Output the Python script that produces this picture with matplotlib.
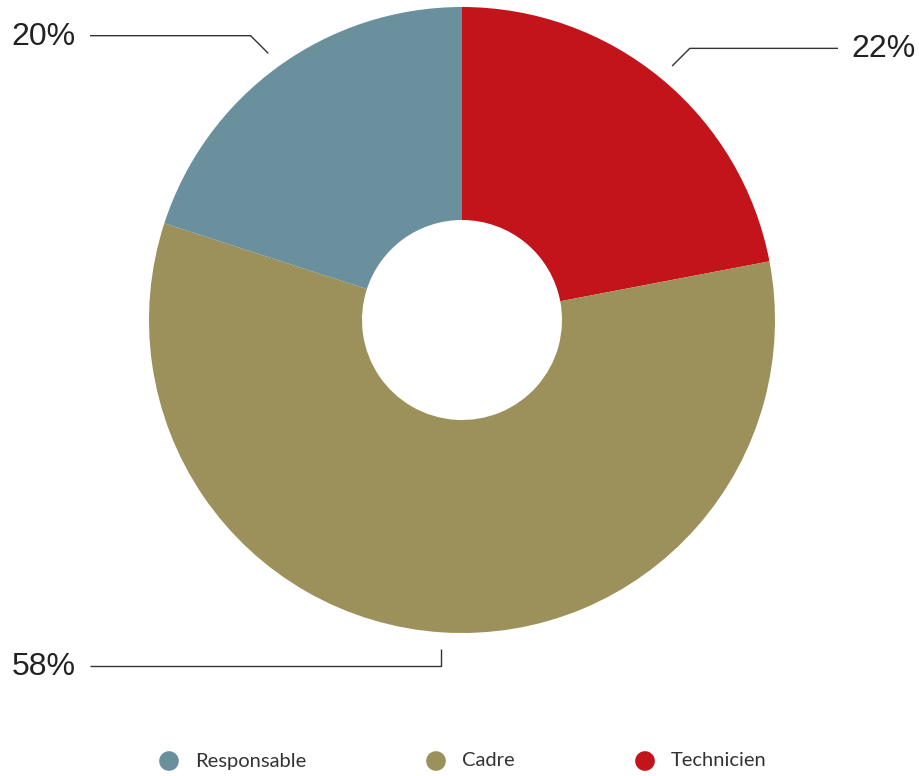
import numpy as np
import matplotlib
matplotlib.use("Agg")
import matplotlib.pyplot as plt

# Share of staff per category (percent)
categories = ["Technicien", "Cadre", "Responsable"]
shares = [22, 58, 20]
colors = ["#c3131b", "#9c915a", "#6a909e"]
legend_order = ["Responsable", "Cadre", "Technicien"]

W, H = 920, 776
fig = plt.figure(figsize=(W / 100, H / 100), dpi=100)
ax = fig.add_axes([0, 0, 1, 1])

cx, cy = 462, H - 320
R = 313
hole = 100

ax.pie(
    shares, colors=colors, startangle=90, counterclock=False,
    center=(cx, cy), radius=R, frame=True,
    wedgeprops=dict(width=R - hole, linewidth=0),
)
ax.set_xlim(0, W)
ax.set_ylim(0, H)
ax.set_aspect("equal")
ax.axis("off")

# Leader lines and percentage labels
label_font = dict(family="Liberation Sans", fontsize=23, color="#222222")
line_kw = dict(color="#333333", linewidth=1.0, solid_capstyle="butt")
elbow_len = {"Technicien": 25, "Cadre": 17, "Responsable": 25}
cum = 0.0
total = float(sum(shares))
for name, val in zip(categories, shares):
    mid = (cum + val / 2) / total
    cum += val
    ang = np.deg2rad(90 - 360 * mid)
    d = np.array([np.cos(ang), np.sin(ang)])
    start = np.array([cx, cy]) + 1.053 * R * d
    if abs(d[0]) < 0.2:
        elbow = start + np.array([0, np.sign(d[1]) * elbow_len[name]])
    else:
        step = elbow_len[name] / np.sqrt(2)
        elbow = start + np.array([np.sign(d[0]) * step, np.sign(d[1]) * step])
    if d[0] >= 0 and abs(d[0]) >= 0.2:
        end_x, tx, ha = 838, 851, "left"
    else:
        end_x, tx, ha = 90, 76, "right"
    ax.plot([start[0], elbow[0], end_x], [start[1], elbow[1], elbow[1]], **line_kw)
    ax.text(tx, elbow[1] - 1, f"{val}%", ha=ha, va="center", **label_font)

# Legend row
legend_y = H - 761
marker_x = [169, 436, 645]
for name, mx in zip(legend_order, marker_x):
    col = colors[categories.index(name)]
    ax.scatter([mx], [legend_y], s=200, color=col, edgecolors="none")
    ax.text(mx + 26, legend_y, name, ha="left", va="center",
            family="Lato", fontsize=14.5, color="#333333")

fig.savefig("out.png", dpi=100, facecolor="white")
